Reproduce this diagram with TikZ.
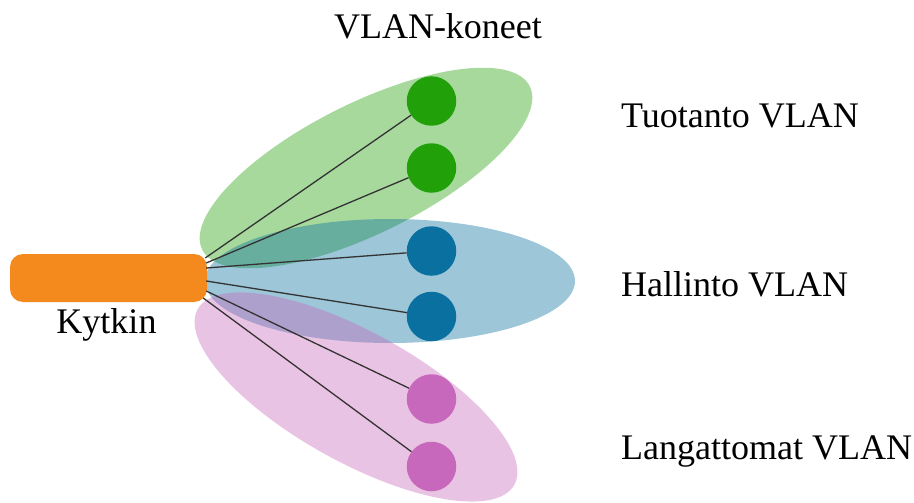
\documentclass[tikz,border=0pt]{standalone}
\usepackage{fontspec}
\setmainfont{Liberation Serif}
\usetikzlibrary{calc}
\definecolor{swOrange}{HTML}{F4891E}
\definecolor{prodGreen}{HTML}{22A00A}
\definecolor{adminBlue}{HTML}{0A70A0}
\definecolor{wlanPink}{HTML}{C868BC}
\definecolor{wire}{HTML}{333333}
\begin{document}
\begin{tikzpicture}[x=1pt,y=-1pt,
  group/.style={fill opacity=0.4},
  host/.style={circle, inner sep=0pt, minimum size=49.5pt},
  link/.style={draw=wire, line width=1.3pt},
  lbl/.style={font=\fontsize{36}{43}\selectfont, inner sep=0pt}]
\useasboundingbox (0,0) rectangle (914,503);

% VLAN groups
\fill[group, prodGreen, rotate around={26.5:(366,168)}] (366,168) ellipse [x radius=183pt, y radius=65pt];
\fill[group, adminBlue] (390,281) ellipse [x radius=185pt, y radius=62pt];
\fill[group, wlanPink, rotate around={-29:(356,397)}] (356,397) ellipse [x radius=181pt, y radius=65pt];

% switch
\node[rectangle, rounded corners=13pt, fill=swOrange, minimum width=197pt, minimum height=48pt, inner sep=0pt] (sw) at (108.5,278) {};

% hosts
\node[host, fill=prodGreen] (g1) at (431.5,101) {};
\node[host, fill=prodGreen] (g2) at (431.5,168) {};
\node[host, fill=adminBlue] (b1) at (431.5,251) {};
\node[host, fill=adminBlue] (b2) at (431.5,316.5) {};
\node[host, fill=wlanPink] (p1) at (431.5,399) {};
\node[host, fill=wlanPink] (p2) at (431.5,466.5) {};

% links
\draw[link] ($(sw.east)+(-2,-20)$) -- (g1);
\draw[link] ($(sw.east)+(-1,-15)$) -- (g2);
\draw[link] ($(sw.east)+(-1,-10)$) -- (b1);
\draw[link] ($(sw.east)+(-1,3)$) -- (b2);
\draw[link] ($(sw.east)+(-1,13)$) -- (p1);
\draw[link] ($(sw.east)+(-4,20)$) -- (p2);

% labels
\node[lbl, anchor=base] (title) at (438,39) {VLAN-koneet};
\node[lbl, anchor=base] (swlbl) at (106.5,333) {Kytkin};
\node[lbl, anchor=base west] (prod) at (621,128) {Tuotanto VLAN};
\node[lbl, anchor=base west] (admin) at (621,296) {Hallinto VLAN};
\node[lbl, anchor=base west] (wlan) at (621,459) {Langattomat VLAN};
\end{tikzpicture}
\end{document}
